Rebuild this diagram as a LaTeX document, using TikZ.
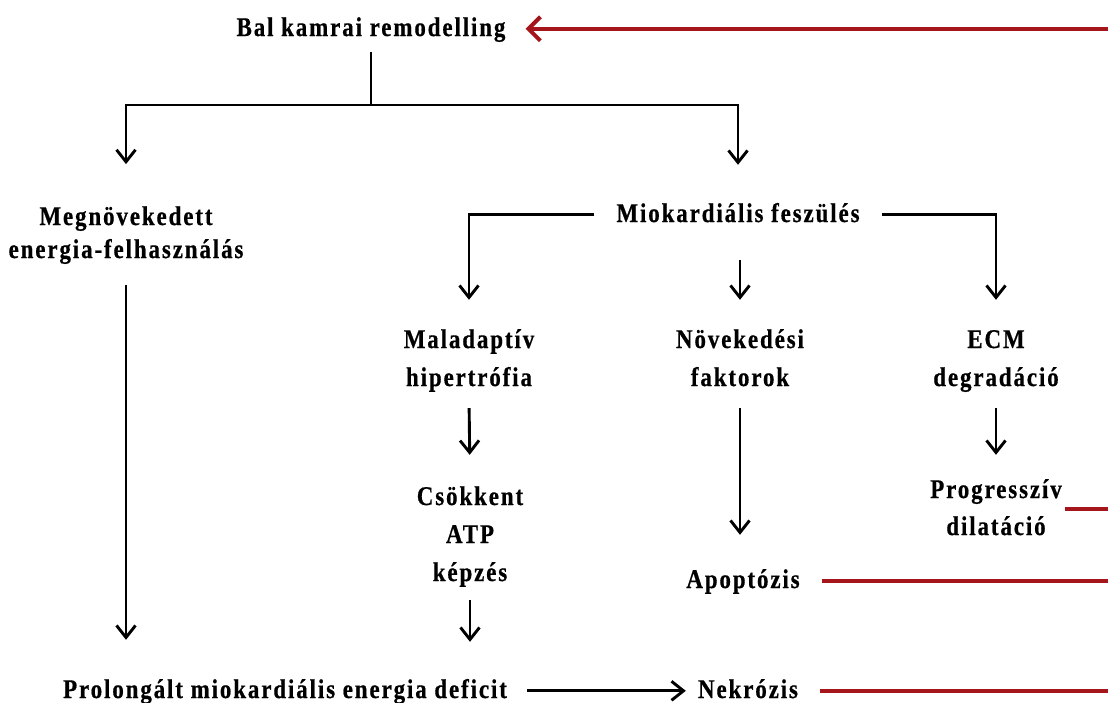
\documentclass[tikz,border=0pt]{standalone}
\usepackage{fontspec}
\newfontfamily\diafont[LetterSpace=7,FakeStretch=0.85,BoldFeatures={FakeBold=0.6}]{Liberation Serif}
\usetikzlibrary{arrows.meta}
\definecolor{darkred}{RGB}{165,22,28}
\newcommand{\rows}[1]{\begin{tabular}[t]{@{}c@{}}#1\end{tabular}}
\begin{document}
\begin{tikzpicture}[x=1pt,y=1pt,
  lbl/.style={inner sep=0pt, anchor=base, font=\diafont\bfseries\fontsize{27}{#1}\selectfont},
  lbl/.default=36,
  lk/.style={line width=2.9pt},
  arr/.style={line width=2.9pt, -{Straight Barb[length=12pt,width=19pt]}},
  redln/.style={line width=4pt, draw=darkred},
  redarr/.style={redln, -{Straight Barb[length=12pt,width=24pt]}}]
\fill[white] (0,0) rectangle (1108,-702);
\useasboundingbox (0,0) rectangle (1108,-702);

\node[lbl] (bal) at (371,-36) {\rows{Bal kamrai remodelling}};
\node[lbl=33] (megn) at (126,-225) {\rows{Megnövekedett\\energia-felhasználás}};
\node[lbl] (mio) at (738,-222) {\rows{Miokardiális feszülés}};
\node[lbl=38] (malad) at (469,-348) {\rows{Maladaptív\\hipertrófia}};
\node[lbl=38] (nov) at (740,-348) {\rows{Növekedési\\faktorok}};
\node[lbl=38] (ecm) at (996,-348) {\rows{ECM\\degradáció}};
\node[lbl=38] (csok) at (470,-505) {\rows{Csökkent\\ATP\\képzés}};
\node[lbl=37] (progr) at (996,-498) {\rows{Progresszív\\dilatáció}};
\node[lbl] (apop) at (743,-588) {\rows{Apoptózis}};
\node[lbl] (prol) at (285,-698) {\rows{Prolongált miokardiális energia deficit}};
\node[lbl] (nek) at (748,-698) {\rows{Nekrózis}};

\coordinate (sp) at (371,-105);
\coordinate (redge) at (1108,0);

\draw[lk, shorten <=5pt] (bal.south) -- (sp);
\draw[arr, shorten >=37.6pt] (sp) -| (megn.north);
\draw[arr, shorten >=31.8pt] (sp) -| (mio.north);
\draw[arr, shorten <=22pt, shorten >=21.4pt] (mio.west) -| (malad.north);
\draw[arr, shorten <=22pt, shorten >=21.4pt] (mio.east) -| (ecm.north);
\draw[arr, shorten <=27pt, shorten >=21.4pt] (mio.south -| nov.north) -- (nov.north);
\draw[arr, shorten <=10.6pt, shorten >=23.4pt] (malad.south) -- (csok.north);
\draw[arr, shorten <=10.6pt, shorten >=27.8pt] (nov.south) -- (nov.south |- apop.north);
\draw[arr, shorten <=10.6pt, shorten >=17.1pt] (ecm.south) -- (progr.north);
\draw[arr, shorten <=7.6pt, shorten >=30.8pt] (csok.south) -- (csok.south |- prol.north);
\draw[arr, shorten <=17.1pt, shorten >=32.8pt] (megn.south) -- (megn.south |- prol.north);
\draw[arr, shorten <=20pt, shorten >=12pt] (prol.east) -- (nek.west);

\draw[redarr, shorten >=20pt] (bal.east -| redge) -- (bal.east);
\draw[redln, shorten <=3pt] (progr.east) -- (progr.east -| redge);
\draw[redln, shorten <=22pt] (apop.east) -- (apop.east -| redge);
\draw[redln, shorten <=22pt] (nek.east) -- (nek.east -| redge);
\end{tikzpicture}
\end{document}
